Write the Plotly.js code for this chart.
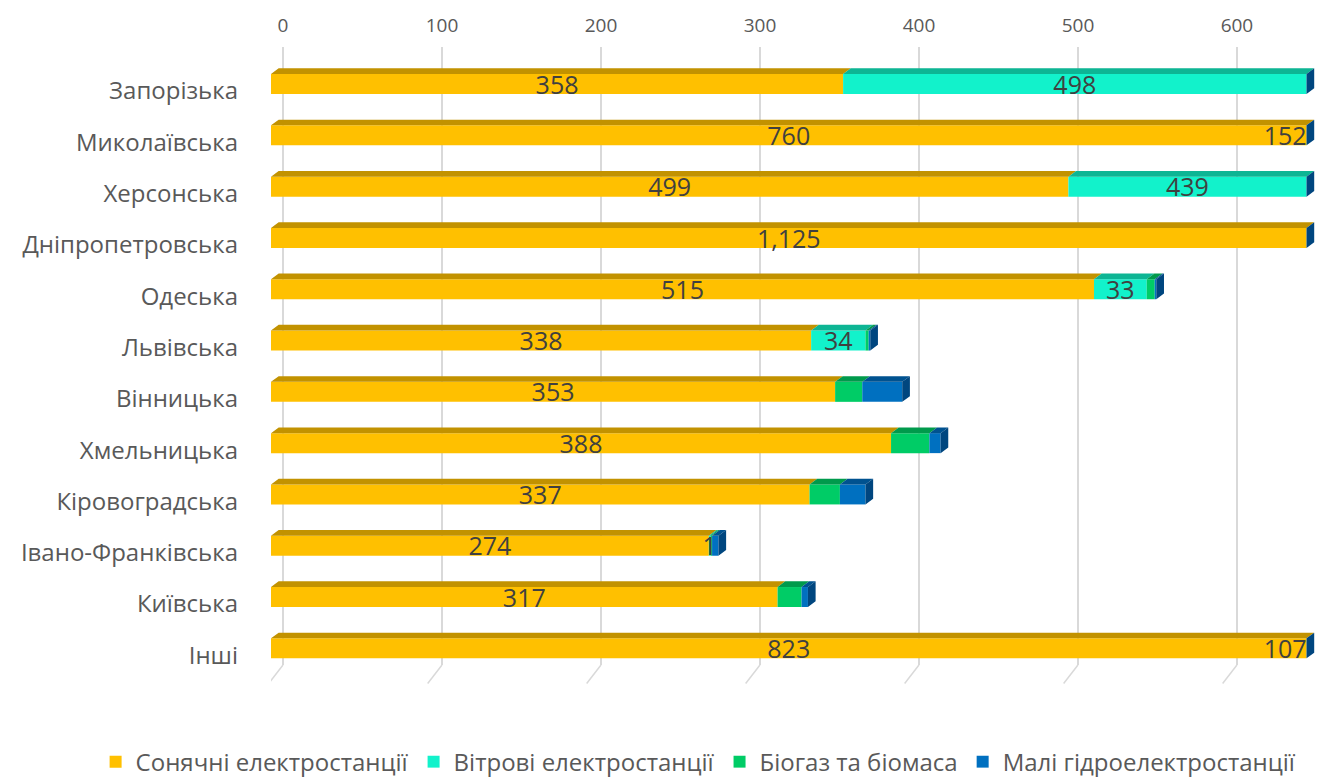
<!DOCTYPE html>
<html><head><meta charset="utf-8">
<script src="https://cdn.plot.ly/plotly-3.0.1.min.js"></script>
<style>html,body{margin:0;padding:0;background:#fff}#chart{width:1341px;height:778px}</style>
</head><body><div id="chart"></div>
<script>
const regions = ['Запорізька','Миколаївська','Херсонська','Дніпропетровська','Одеська','Львівська','Вінницька','Хмельницька','Кіровоградська','Івано-Франківська','Київська','Інші'];
const solar  = [358, 760, 499, 1125, 515, 338, 353, 388, 337, 274, 317, 823];
const wind   = [498, 152, 439, 0, 33, 34, 0, 0, 0, 1, 0, 107];
const biogas = [3, 10, 2, 15, 5, 2, 17, 24, 19, 1, 15, 60];
const hydro  = [1, 1, 1, 1, 1, 1, 25, 7, 16, 4, 4, 50];
const seriesNames = ['Сонячні електростанції','Вітрові електростанції','Біогаз та біомаса','Малі гідроелектростанції'];
const xTicks = [0, 100, 200, 300, 400, 500, 600];

const series = [solar, wind, biogas, hydro];
const frontColors = ['#FFC000', '#12F2CB', '#00CC66', '#0070C0'];
const topColors   = ['#C29200', '#0DB594', '#009A4C', '#005290'];
const sideColor   = '#00467F';
const FONT = 'Open Sans, sans-serif';

const CAP = 648;      // visible axis end of front faces
const DEPTH = 4.8;    // 3D depth in x units
const RISE = 0.111;   // 3D depth in y units
const OFF = -0.331, W = 0.39;

const idx = regions.map((_, i) => i);
const traces = [];
const starts = series.map(() => []);
let cum = regions.map(() => 0);
series.forEach((vals, s) => {
  vals.forEach((v, i) => { starts[s][i] = cum[i]; });
  cum = cum.map((c, i) => c + vals[i]);
});

// front faces (real bars)
series.forEach((vals, s) => {
  const base = vals.map((v, i) => Math.min(starts[s][i], CAP));
  const len = vals.map((v, i) => Math.min(starts[s][i] + v, CAP) - Math.min(starts[s][i], CAP));
  traces.push({
    type: 'bar', orientation: 'h', name: seriesNames[s],
    y: idx, x: len, base: base, offset: OFF, width: W,
    marker: {color: frontColors[s], line: {width: 0}},
    hoverinfo: 'skip', showlegend: true
  });
});

// top faces (parallelograms)
series.forEach((vals, s) => {
  const xs = [], ys = [];
  vals.forEach((v, i) => {
    const a = Math.min(starts[s][i], CAP), b = Math.min(starts[s][i] + v, CAP);
    if (b - a <= 0) return;
    const y0 = i + OFF, y1 = y0 - RISE;
    xs.push(a, b, b + DEPTH, a + DEPTH, a, null);
    ys.push(y0, y0, y1, y1, y0, null);
  });
  traces.push({type: 'scatter', mode: 'lines', x: xs, y: ys, fill: 'toself',
    fillcolor: topColors[s], line: {width: 0, color: topColors[s]},
    hoverinfo: 'skip', showlegend: false, connectgaps: false});
});

// side faces
(function () {
  const xs = [], ys = [];
  cum.forEach((t, i) => {
    const e = Math.min(t, CAP);
    const yt = i + OFF, yb = i + OFF + W;
    xs.push(e, e + DEPTH, e + DEPTH, e, e, null);
    ys.push(yt, yt - RISE, yb - RISE, yb, yt, null);
  });
  traces.push({type: 'scatter', mode: 'lines', x: xs, y: ys, fill: 'toself',
    fillcolor: sideColor, line: {width: 0, color: sideColor},
    hoverinfo: 'skip', showlegend: false, connectgaps: false});
})();

// data labels (solar and wind)
(function () {
  const xs = [], ys = [], tx = [], pos = [];
  [0, 1].forEach(s => {
    series[s].forEach((v, i) => {
      if (!(v > 0)) return;
      const a = starts[s][i], b = a + v;
      if (a < CAP) { xs.push((a + Math.min(b, CAP)) / 2); pos.push('middle center'); }
      else { xs.push(CAP); pos.push('middle left'); }
      ys.push(i - 0.07);
      tx.push(v.toLocaleString('en-US'));
    });
  });
  traces.push({type: 'scatter', mode: 'text', x: xs, y: ys, text: tx, textposition: pos,
    textfont: {family: FONT, size: 25, color: '#404040'}, hoverinfo: 'skip', showlegend: false, cliponaxis: false});
})();

// helper trace for top axis
traces.push({type: 'scatter', x: [], y: [], xaxis: 'x2', yaxis: 'y', showlegend: false, hoverinfo: 'skip'});

const floorShapes = xTicks.map(t => ({
  type: 'line', xref: 'x2', yref: 'paper', x0: t, x1: t - 9, y0: 0, y1: -0.03,
  line: {color: '#D9D9D9', width: 1.5}, layer: 'below'
}));

const layout = {
  width: 1341, height: 778,
  margin: {l: 271, r: 26, t: 47, b: 113, autoexpand: false},
  paper_bgcolor: '#fff', plot_bgcolor: 'rgba(0,0,0,0)',
  barmode: 'overlay',
  font: {family: FONT, color: '#595959'},
  xaxis: {range: [0, 653.3], showgrid: false, zeroline: false, showticklabels: false, ticks: '', fixedrange: true},
  xaxis2: {overlaying: 'x', side: 'top', anchor: 'y', range: [-7.55, 649.1],
    tickvals: xTicks, ticktext: xTicks.map(String), showgrid: true, gridcolor: '#D9D9D9', gridwidth: 1.5,
    zeroline: false, showline: false, ticks: '', ticklabelstandoff: 10,
    tickfont: {family: FONT, size: 19, color: '#595959'}},
  yaxis: {range: [11.189, -0.858], tickvals: idx, ticktext: regions, showgrid: false, zeroline: false,
    ticks: '', ticklabelstandoff: 32, tickfont: {family: FONT, size: 24, color: '#595959'}},
  legend: {orientation: 'h', x: -0.168, xanchor: 'left', y: -0.157, yanchor: 'middle',
    font: {family: FONT, size: 24, color: '#595959'}, traceorder: 'normal'},
  shapes: floorShapes,
  showlegend: true
};

Plotly.newPlot('chart', traces, layout, {staticPlot: true, displayModeBar: false});
</script></body></html>
